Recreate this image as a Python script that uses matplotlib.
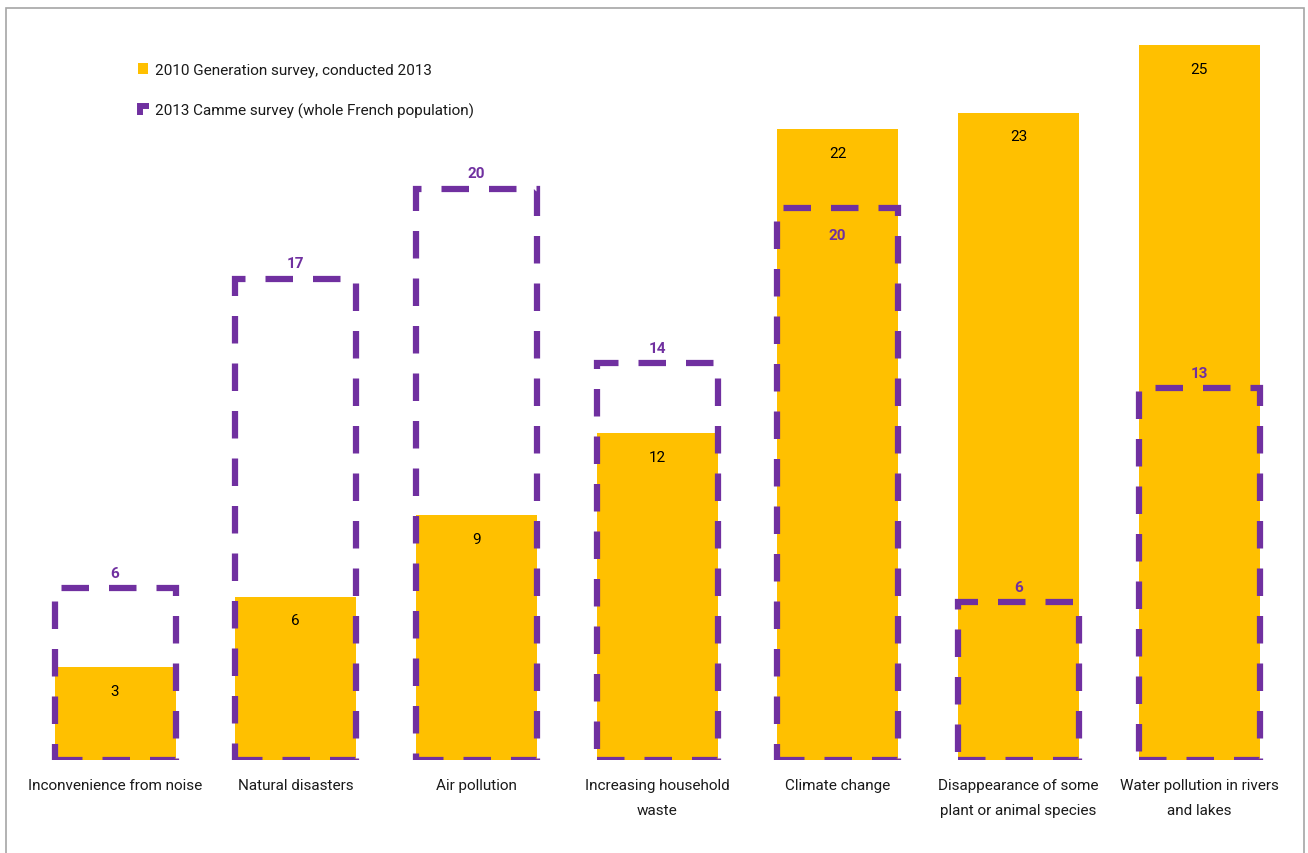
import matplotlib
matplotlib.use("Agg")
import matplotlib.pyplot as plt
from matplotlib.patches import Rectangle
from matplotlib.lines import Line2D

categories = ["Inconvenience from noise", "Natural disasters", "Air pollution",
              "Increasing household\nwaste", "Climate change",
              "Disappearance of some\nplant or animal species",
              "Water pollution in rivers\nand lakes"]
gen2010 = [3.3, 5.8, 8.7, 11.6, 22.4, 23.0, 25.4]
camme2013 = [6.1, 17.1, 20.3, 14.1, 19.6, 5.6, 13.2]
series_names = ["2010 Generation survey, conducted 2013",
                "2013 Camme survey (whole French population)"]

YELLOW = "#FFC000"
PURPLE = "#7030A0"
TEXT = "#1a1a1a"

plt.rcParams['font.family'] = ['DejaVu Sans Condensed', 'Liberation Sans Narrow', 'Roboto', 'DejaVu Sans']
plt.rcParams['font.stretch'] = 'condensed'

W, H = 1308, 854
fig = plt.figure(figsize=(W / 100, H / 100), dpi=100)
ax = fig.add_axes([24.7 / W, (H - 761) / H, 1264.7 / W, 746 / H])
ax.set_xlim(-0.5, 6.5)
ax.set_ylim(0, 26.5)

FS = 11

bw = 0.67
x = list(range(len(categories)))
ax.bar(x, gen2010, width=bw, color=YELLOW, zorder=2)

for i, (v, c) in enumerate(zip(gen2010, camme2013)):
    ax.annotate(f"{v:.0f}", (i, v), xytext=(0, -17), textcoords="offset points",
                ha="center", va="center", fontsize=FS, color="black", zorder=5)
    r = Rectangle((i - bw / 2, 0), bw, c, fill=False, edgecolor=PURPLE,
                  linewidth=4.5, linestyle=(0, (4.4, 3.2)), joinstyle="miter",
                  capstyle="butt", zorder=3)
    ax.add_patch(r)
    off = -19.5 if i == 4 else 11
    ax.annotate(f"{c:.0f}", (i, c), xytext=(0, off), textcoords="offset points",
                ha="center", va="center", fontsize=FS, fontweight="bold",
                color=PURPLE, zorder=5)

ax.set_xticks(x)
ax.set_xticklabels(categories, fontsize=FS, color=TEXT)
for lab in ax.get_xticklabels():
    lab.set_linespacing(1.95)
ax.tick_params(axis="x", length=0, pad=13)
ax.set_yticks([])
for s in ax.spines.values():
    s.set_visible(False)

# Legend (manual)
fig.patches.append(Rectangle((138 / W, 1 - 75 / H), 10 / W, 11 / H,
                             transform=fig.transFigure, facecolor=YELLOW,
                             edgecolor="none"))
fig.text(155 / W, 1 - 70.5 / H, series_names[0], fontsize=FS, color=TEXT,
         ha="left", va="center")
fig.lines.append(Line2D([140 / W, 140 / W, 149 / W],
                        [1 - 116 / H, 1 - 107 / H, 1 - 107 / H],
                        transform=fig.transFigure, color=PURPLE, linewidth=4.3,
                        solid_joinstyle="miter", solid_capstyle="butt"))
fig.text(155 / W, 1 - 111.5 / H, series_names[1], fontsize=FS, color=TEXT,
         ha="left", va="center")

# Outer frame
fig.patches.append(Rectangle((6 / W, -0.02), 1298 / W, 1 - 9 / H + 0.02,
                             transform=fig.transFigure, fill=False,
                             edgecolor="#A6A6A6", linewidth=1.2))

fig.savefig("out.png", dpi=100)
